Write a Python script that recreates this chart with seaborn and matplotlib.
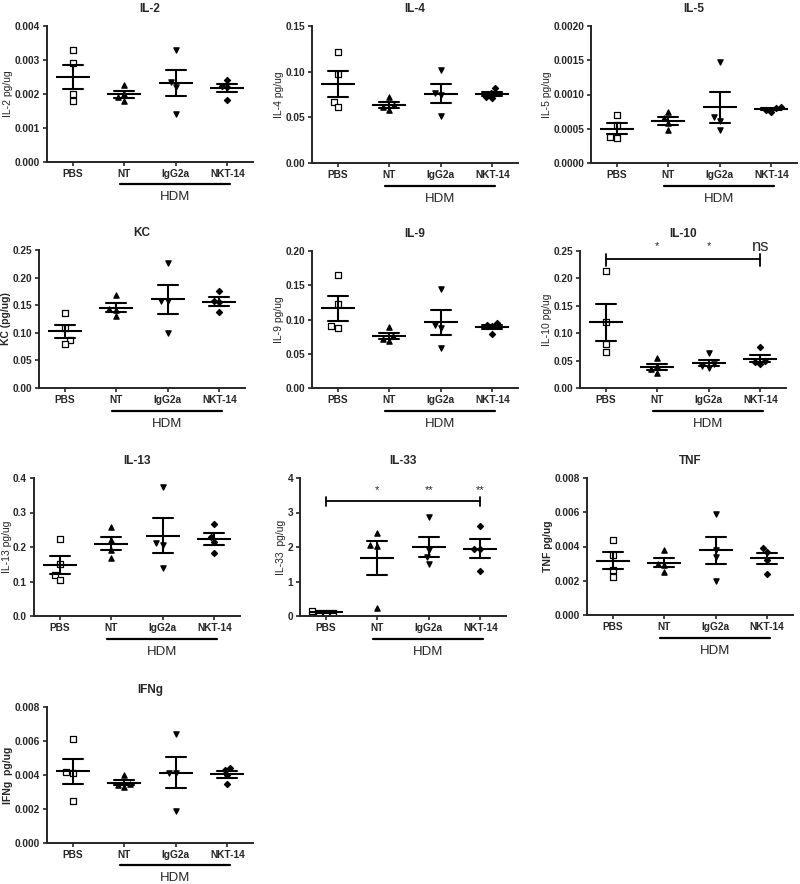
"""Cytokine panels: scatter of each mouse with mean and SEM."""
import numpy as np
import pandas as pd
import seaborn as sns

from matplotlib import pyplot as plt


GROUPS = ["PBS", "NT", "IgG2a", "NKT-14"]
MARKERS = ["s", "^", "v", "D"]

# four mice per group
IL2 = [[0.0033, 0.0029, 0.0020, 0.00178],
       [0.00227, 0.0020, 0.0019, 0.0018],
       [0.0033, 0.00235, 0.0022, 0.00142],
       [0.0024, 0.00225, 0.0022, 0.00183]]
IL4 = [[0.122, 0.097, 0.067, 0.061],
       [0.072, 0.063, 0.061, 0.058],
       [0.102, 0.077, 0.074, 0.051],
       [0.082, 0.077, 0.072, 0.071]]
IL5 = [[0.0007, 0.00055, 0.00038, 0.00037],
       [0.00075, 0.00065, 0.00058, 0.00048],
       [0.00148, 0.00067, 0.00062, 0.00048],
       [0.00082, 0.0008, 0.00078, 0.00075]]
KC = [[0.135, 0.108, 0.087, 0.080],
      [0.168, 0.143, 0.142, 0.130],
      [0.227, 0.158, 0.157, 0.100],
      [0.176, 0.157, 0.155, 0.137]]
IL9 = [[0.165, 0.123, 0.090, 0.088],
       [0.089, 0.076, 0.072, 0.068],
       [0.145, 0.092, 0.088, 0.058],
       [0.095, 0.092, 0.090, 0.079]]
IL10 = [[0.214, 0.120, 0.080, 0.065],
        [0.054, 0.040, 0.034, 0.028],
        [0.064, 0.043, 0.040, 0.036],
        [0.074, 0.050, 0.047, 0.044]]
IL13 = [[0.222, 0.150, 0.118, 0.105],
        [0.258, 0.220, 0.192, 0.168],
        [0.375, 0.212, 0.205, 0.140],
        [0.267, 0.228, 0.215, 0.183]]
IL33 = [[0.14, 0.10, 0.09, 0.09],
        [2.42, 2.05, 2.03, 0.22],
        [2.88, 1.90, 1.70, 1.52],
        [2.62, 1.95, 1.93, 1.30]]
TNF = [[0.0044, 0.0035, 0.0026, 0.0022],
       [0.0038, 0.0030, 0.0029, 0.0025],
       [0.0059, 0.0038, 0.0034, 0.0020],
       [0.0039, 0.0037, 0.0032, 0.0024]]
IFNG = [[0.0061, 0.0042, 0.0041, 0.0025],
        [0.0040, 0.0035, 0.0034, 0.0033],
        [0.0064, 0.0041, 0.0041, 0.0019],
        [0.0044, 0.0043, 0.0040, 0.0035]]

# (title, data, ylabel, bold ylabel, yticks, tick format, stars)
PANELS = [
    ("IL-2", IL2, "IL-2 pg/ug", False, [0, 0.001, 0.002, 0.003, 0.004], "{:.3f}", None),
    ("IL-4", IL4, "IL-4 pg/ug", False, [0, 0.05, 0.10, 0.15], "{:.2f}", None),
    ("IL-5", IL5, "IL-5 pg/ug", False, [0, 0.0005, 0.0010, 0.0015, 0.0020], "{:.4f}", None),
    ("KC", KC, "KC (pg/ug)", True, [0, 0.05, 0.10, 0.15, 0.20, 0.25], "{:.2f}", None),
    ("IL-9", IL9, "IL-9 pg/ug", False, [0, 0.05, 0.10, 0.15, 0.20], "{:.2f}", None),
    ("IL-10", IL10, "IL-10 pg/ug", False, [0, 0.05, 0.10, 0.15, 0.20, 0.25], "{:.2f}",
     (0.235, 0.0115, 0.259, ["*", "*", "ns"])),
    ("IL-13", IL13, "IL-13 pg/ug", False, [0, 0.1, 0.2, 0.3, 0.4], "{:.1f}", None),
    ("IL-33", IL33, "IL-33  pg/ug", False, [0, 1, 2, 3, 4], "{:.0f}",
     (3.33, 0.15, 3.65, ["*", "**", "**"])),
    ("TNF", TNF, "TNF pg/ug", True, [0, 0.002, 0.004, 0.006, 0.008], "{:.3f}", None),
    ("IFNg", IFNG, "IFNg  pg/ug", True, [0, 0.002, 0.004, 0.006, 0.008], "{:.3f}", None),
]

# axes boxes in pixels: left, top, bottom
BOXES = [(47, 26, 162), (312, 26, 163), (591, 26, 163),
         (39, 250, 388), (312, 251, 388), (580, 251, 388),
         (34, 478, 616), (300, 478, 616), (587, 478, 615),
         (47, 707, 843)]

W, H = 800, 884
AX_W = 206


def draw_panel(ax, title, data, ylabel, bold_label, yticks, fmt, stars):
    """Scatter of mice, mean line and SEM whiskers."""
    df = pd.DataFrame({
        "group": np.repeat(GROUPS, 4),
        "value": np.concatenate(data),
    })
    for grp, mk in zip(GROUPS, MARKERS):
        sub = df[df["group"] == grp]
        face = "white" if mk == "s" else "black"
        sns.swarmplot(data=sub, x="group", y="value", order=GROUPS, ax=ax,
                      marker=mk, color=face, edgecolor="black", linewidth=0.9,
                      size=3.8 if mk != "D" else 3.1, zorder=2)
    sns.pointplot(data=df, x="group", y="value", order=GROUPS, ax=ax,
                  errorbar="se", color="black", linestyle="none", marker="_",
                  markersize=25, markeredgewidth=1.5, capsize=0.38,
                  err_kws={"linewidth": 1.5}, zorder=3)

    ax.set_xlim(-0.5, 3.5)
    ax.set_ylim(yticks[0], yticks[-1])
    ax.set_yticks(yticks)
    ax.set_yticklabels([fmt.format(t) for t in yticks])
    ax.set_xlabel("")
    ax.set_ylabel(ylabel, fontsize=7.5,
                  fontweight="bold" if bold_label else "normal", labelpad=1)
    ax.set_title(title, fontsize=8.5, fontweight="bold", pad=10)
    for lab in ax.get_xticklabels() + ax.get_yticklabels():
        lab.set_fontweight("bold")
    ax.tick_params(labelsize=7.3, width=1.2, length=3, pad=2)
    sns.despine(ax=ax)
    for sp in ["left", "bottom"]:
        ax.spines[sp].set_linewidth(1.4)

    # HDM bracket under the treated groups
    trans = ax.get_xaxis_transform()
    ax.plot([0.92, 3.06], [-0.165, -0.165], color="black", lw=1.6,
            transform=trans, clip_on=False)
    ax.text(1.99, -0.26, "HDM", transform=trans, ha="center", va="center",
            fontsize=9.5)

    if stars is not None:
        ybar, tick, ystar, labels = stars
        ax.plot([0, 3], [ybar, ybar], color="black", lw=1.3, clip_on=False)
        for xx in [0, 3]:
            ax.plot([xx, xx], [ybar - tick, ybar + tick * 0.8], color="black",
                    lw=1.3, clip_on=False)
        for xx, lab in zip([1, 2, 3], labels):
            if lab == "ns":
                ax.text(xx, ystar, lab, ha="center", va="center",
                        fontsize=12)
            else:
                ax.text(xx, ystar, lab, ha="center", va="center",
                        fontsize=8)


if __name__ == "__main__":
    sns.set_style("ticks")
    plt.rcParams["font.family"] = ["Liberation Sans", "DejaVu Sans"]

    fig = plt.figure(figsize=(W / 100, H / 100), dpi=100)
    for panel, (left, top, bottom) in zip(PANELS, BOXES):
        ax = fig.add_axes([left / W, 1 - bottom / H, AX_W / W,
                           (bottom - top) / H])
        draw_panel(ax, *panel)

    fig.savefig("out.png", dpi=100, facecolor="w")
